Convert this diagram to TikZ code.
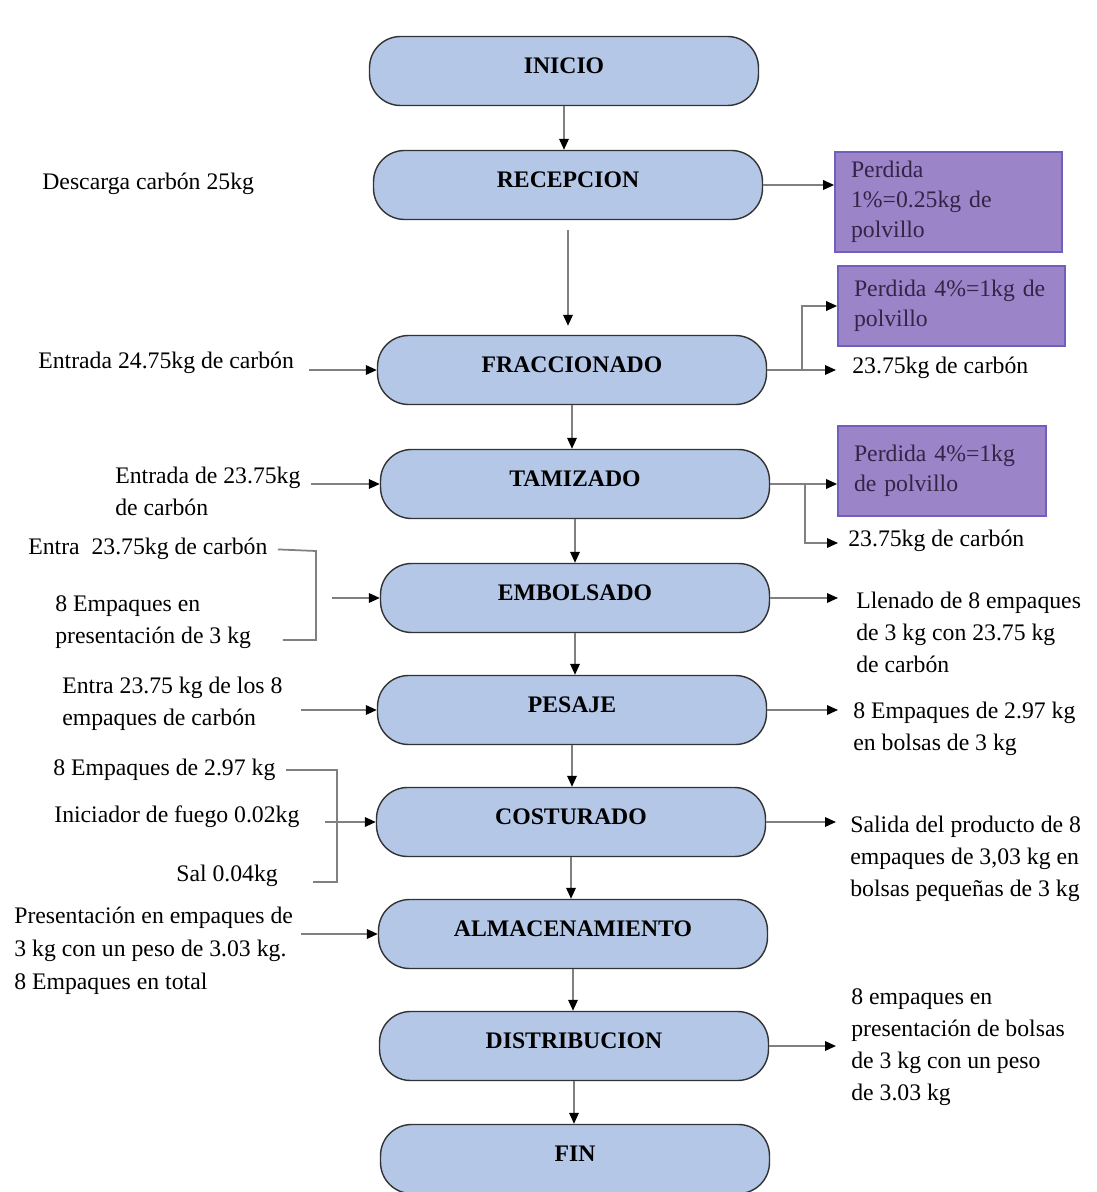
\documentclass[tikz,border=0pt]{standalone}
\usepackage{fontspec}
\setmainfont{Liberation Serif}
\usetikzlibrary{arrows.meta}
\definecolor{azulpaso}{RGB}{180,199,231}
\definecolor{moradoperdida}{RGB}{155,132,200}
\definecolor{bordeperdida}{RGB}{112,96,190}
\definecolor{textoperdida}{RGB}{55,35,70}
\begin{document}
\begin{tikzpicture}[x=0.02cm,y=-0.02cm,
    paso/.style={draw=black!80, line width=0.8pt, fill=azulpaso, rounded corners=0.62cm,
      minimum width=7.78cm, minimum height=1.38cm, text height=9pt, text depth=6.5pt,
      font=\fontsize{13.5}{15}\selectfont\bfseries},
    perdida/.style={draw=bordeperdida, line width=1pt, fill=moradoperdida, text=textoperdida,
      align=left, inner xsep=0.32cm, inner ysep=0pt, font=\fontsize{13.5}{17}\selectfont},
    txt/.style={inner sep=0pt, align=left, font=\fontsize{13.5}{18.2}\selectfont},
    linea/.style={draw=black!50, line width=1pt},
    flecha/.style={linea, -{Triangle[length=0.22cm,width=0.19cm,color=black]}},
    entrada/.style={flecha, shorten <=0.3cm},
    salida/.style={flecha, shorten >=0.3cm}]
  \useasboundingbox (0,0) rectangle (1097,1192);

  \node[paso] (inicio) at (564,71) {INICIO};
  \node[paso] (recep) at (568,185) {RECEPCION};
  \node[paso] (fracc) at (572,370) {FRACCIONADO};
  \node[paso] (tamiz) at (575,484) {TAMIZADO};
  \node[paso] (embol) at (575,598) {EMBOLSADO};
  \node[paso] (pesaje) at (572,710) {PESAJE};
  \node[paso] (costur) at (571,822) {COSTURADO};
  \node[paso] (almac) at (573,934) {ALMACENAMIENTO};
  \node[paso] (distrib) at (574,1046) {DISTRIBUCION};
  \node[paso] (fin) at (575,1159) {FIN};

  \draw[flecha] (inicio.south) -- (inicio.south |- recep.north);
  \draw[flecha, shorten <=0.2cm, shorten >=0.18cm] (recep.south) -- (recep.south |- fracc.north);
  \draw[flecha] (fracc.south) -- (fracc.south |- tamiz.north);
  \draw[flecha] (tamiz.south) -- (tamiz.south |- embol.north);
  \draw[flecha] (embol.south) -- (embol.south |- pesaje.north);
  \draw[flecha] (pesaje.south) -- (pesaje.south |- costur.north);
  \draw[flecha] (costur.south) -- (costur.south |- almac.north);
  \draw[flecha] (almac.south) -- (almac.south |- distrib.north);
  \draw[flecha] (distrib.south) -- (distrib.south |- fin.north);

  % entradas
  \node[txt, anchor=west] (descarga) at (42,184) {Descarga carbón 25kg};
  \node[txt, anchor=west] (ent1) at (38,363) {Entrada 24.75kg de carbón};
  \node[txt, anchor=west] (ent2) at (115,491) {Entrada de 23.75kg\\de carbón};
  \node[txt, anchor=west] (ent3a) at (28,549) {Entra\enspace 23.75kg de carbón};
  \node[txt, anchor=west] (ent3b) at (55,622) {8 Empaques en\\presentación de 3 kg};
  \node[txt, anchor=west] (ent4) at (62,704) {Entra 23.75 kg de los 8\\empaques de carbón};
  \node[txt, anchor=west] (cos1) at (53,770) {8 Empaques de 2.97 kg};
  \node[txt, anchor=west] (cos2) at (54,817) {Iniciador de fuego 0.02kg};
  \node[txt, anchor=west] (cos3) at (176,876) {Sal 0.04kg};
  \node[txt, anchor=west, font=\fontsize{13.5}{18.8}\selectfont] (ent5) at (14,951)
    {Presentación en empaques de\\3 kg con un peso de 3.03 kg.\\8 Empaques en total};

  \draw[entrada] (ent1.east |- fracc.west) -- (fracc.west);
  \draw[entrada, shorten <=0.2cm] (ent2.east |- tamiz.west) -- (tamiz.west);
  \coordinate (llave1) at (316,551);
  \coordinate (llave1b) at (316,640);
  \coordinate (llave1m) at (332,598);
  \draw[linea, shorten <=0.2cm] (ent3a.east) -- (llave1) -- (llave1b) -- ([xshift=18]ent3b.east |- llave1b);
  \draw[flecha] (llave1m) -- (embol.west);
  \draw[entrada, shorten <=0.36cm] (ent4.east |- pesaje.west) -- (pesaje.west);
  \coordinate (llave2) at (337,772);
  \coordinate (llave2b) at (337,882);
  \draw[linea, shorten <=0.2cm] (cos1.east) -- (cos1.east -| llave2) -- (llave2b) -- ([xshift=20]cos3.east |- llave2b);
  \draw[entrada, shorten <=0.5cm] (cos2.east |- costur.west) -- (costur.west);
  \draw[entrada, shorten <=0.16cm] (ent5.east |- almac.west) -- (almac.west);

  % salidas
  \node[perdida, text width=3.9cm, minimum height=2cm] (perd1) at (948.5,202)
    {Perdida\\1\%=0.25kg de\\polvillo};
  \node[perdida, text width=3.9cm, minimum height=1.6cm] (perd2) at (951.5,306)
    {Perdida 4\%=1kg de\\polvillo};
  \node[perdida, text width=3.52cm, minimum height=1.8cm] (perd3) at (942,471)
    {Perdida 4\%=1kg\\de polvillo};
  \node[txt, anchor=west] (carb1) at (852,368) {23.75kg de carbón};
  \node[txt, anchor=west] (carb2) at (848,541) {23.75kg de carbón};
  \node[txt, anchor=west] (llenado) at (856,632) {Llenado de 8 empaques\\de 3 kg con 23.75 kg\\de carbón};
  \node[txt, anchor=west] (bolsas) at (853,729) {8 Empaques de 2.97 kg\\en bolsas de 3 kg};
  \node[txt, anchor=west] (producto) at (850,859) {Salida del producto de 8\\empaques de 3,03 kg en\\bolsas pequeñas de 3 kg};
  \node[txt, anchor=west] (final) at (851,1047) {8 empaques en\\presentación de bolsas\\de 3 kg con un peso\\de 3.03 kg};

  \draw[flecha] (recep.east) -- (recep.east -| perd1.west);
  \coordinate (rama1) at (802,370);
  \draw[linea] (fracc.east) -- (rama1);
  \draw[flecha] (rama1) |- (perd2.west);
  \draw[flecha, shorten >=0.32cm] (rama1) -- (rama1 -| carb1.west);
  \coordinate (rama2) at (805,484);
  \draw[flecha] (tamiz.east) -- (tamiz.east -| perd3.west);
  \draw[flecha, shorten >=0.2cm] (rama2) |- (carb2.west |- 0,543);
  \draw[salida, shorten >=0.36cm] (embol.east) -- (embol.east -| llenado.west);
  \draw[salida] (pesaje.east) -- (pesaje.east -| bolsas.west);
  \draw[salida, shorten >=0.28cm] (costur.east) -- (costur.east -| producto.west);
  \draw[salida] (distrib.east) -- (distrib.east -| final.west);
\end{tikzpicture}
\end{document}
